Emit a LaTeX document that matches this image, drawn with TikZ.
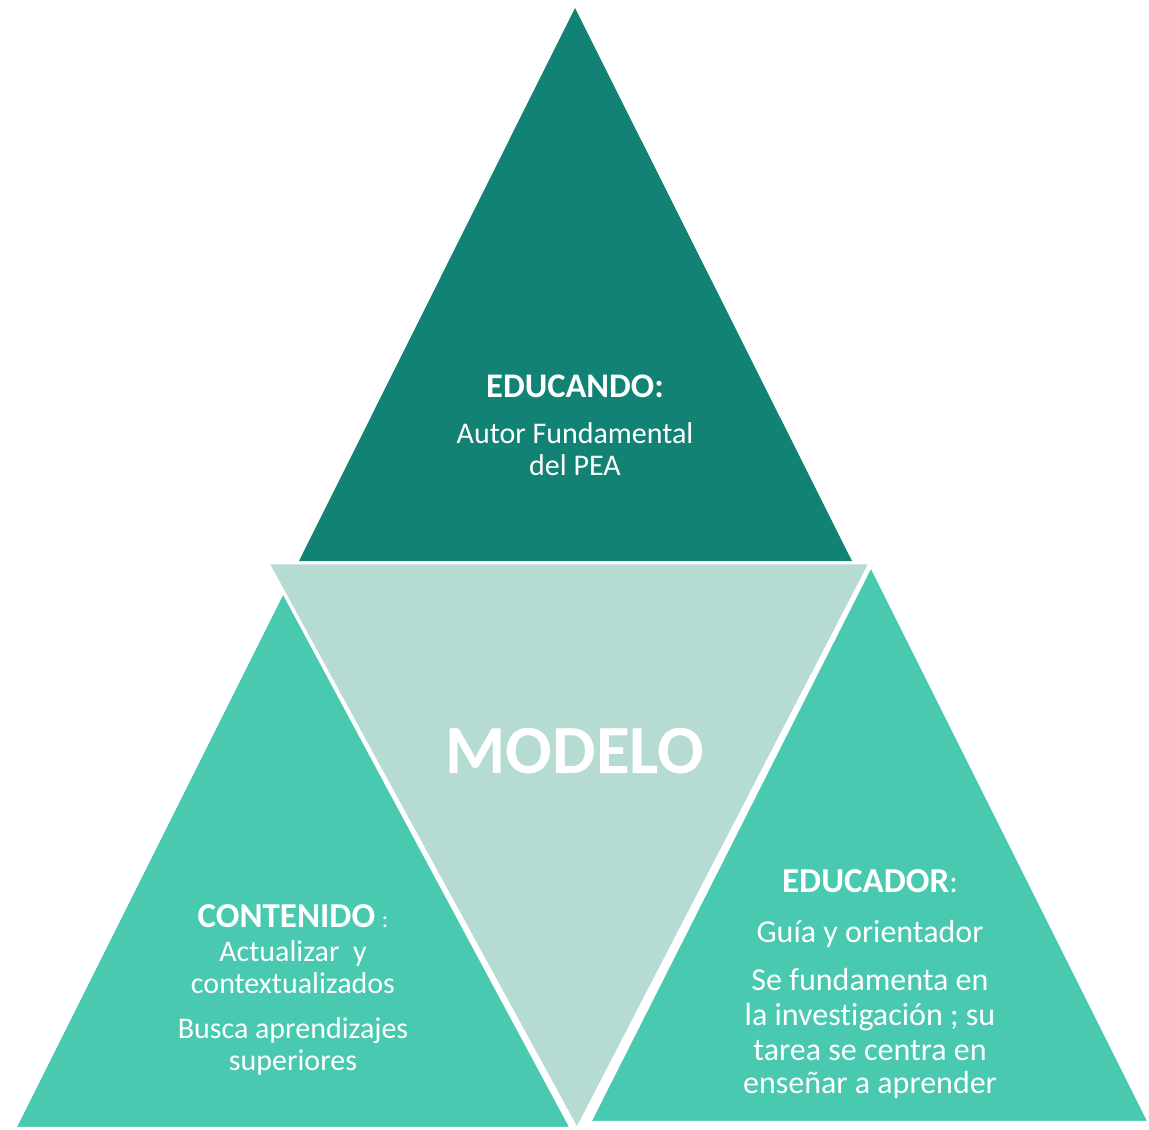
\documentclass[tikz,border=0pt]{standalone}
\usepackage{fontspec}
\setmainfont{Carlito}[Ligatures=NoCommon]
\definecolor{darkteal}{HTML}{118273}
\definecolor{lightteal}{HTML}{B5DBD3}
\definecolor{midteal}{HTML}{48C9B0}
\tikzset{
  tri/.style={draw=white, line width=2.5pt, line join=miter},
  lbl/.style={text=white, anchor=base, inner sep=0pt},
  topfont/.style={font=\fontsize{30}{36}\selectfont},
  leftfont/.style={font=\fontsize{30}{36}\selectfont},
  rightfont/.style={font=\fontsize{32}{38}\selectfont},
}
\begin{document}
\begin{tikzpicture}[x=1pt,y=-1pt]
\useasboundingbox (0,0) rectangle (1149,1130);
% top triangle
\fill[darkteal] (575,8) -- (852,561) -- (299,561) -- cycle;
% left triangle
\filldraw[tri, fill=midteal] (283,592) -- (571,1128) -- (15,1128) -- cycle;
% middle inverted triangle
\filldraw[tri, fill=lightteal] (268,563) -- (870,563) -- (577,1129) -- cycle;
% right triangle
\filldraw[tri, fill=midteal] (871,566) -- (1149,1122) -- (590,1122) -- cycle;
% texts
\node[lbl, font=\fontsize{34.5}{40}\selectfont\bfseries] (t1) at (575,397) {EDUCANDO:};
\node[lbl, topfont] (t2) at (575,443) {Autor Fundamental};
\node[lbl, topfont] (t3) at (575,475) {del PEA};
\node[lbl, font=\fontsize{69}{80}\selectfont\bfseries] (m) at (575,773) {MODELO};
\node[lbl, leftfont] (c1) at (293,927) {{\fontsize{35}{40}\selectfont\bfseries CONTENIDO} {\fontsize{24}{28}\selectfont :}};
\node[lbl, leftfont] (c2) at (293,961) {Actualizar\ \ y};
\node[lbl, leftfont] (c3) at (293,993) {contextualizados};
\node[lbl, leftfont] (c4) at (293,1038) {Busca aprendizajes};
\node[lbl, leftfont] (c5) at (293,1070) {superiores};
\node[lbl, rightfont] (e1) at (870,892) {{\fontsize{35}{40}\selectfont\bfseries EDUCADOR}:};
\node[lbl, rightfont] (e2) at (870,942) {Guía y orientador};
\node[lbl, rightfont] (e3) at (870,990) {Se fundamenta en};
\node[lbl, rightfont] (e4) at (870,1025) {la investigación ; su};
\node[lbl, rightfont] (e5) at (870,1060) {tarea se centra en};
\node[lbl, rightfont] (e6) at (870,1093) {enseñar a aprender};
\end{tikzpicture}
\end{document}
